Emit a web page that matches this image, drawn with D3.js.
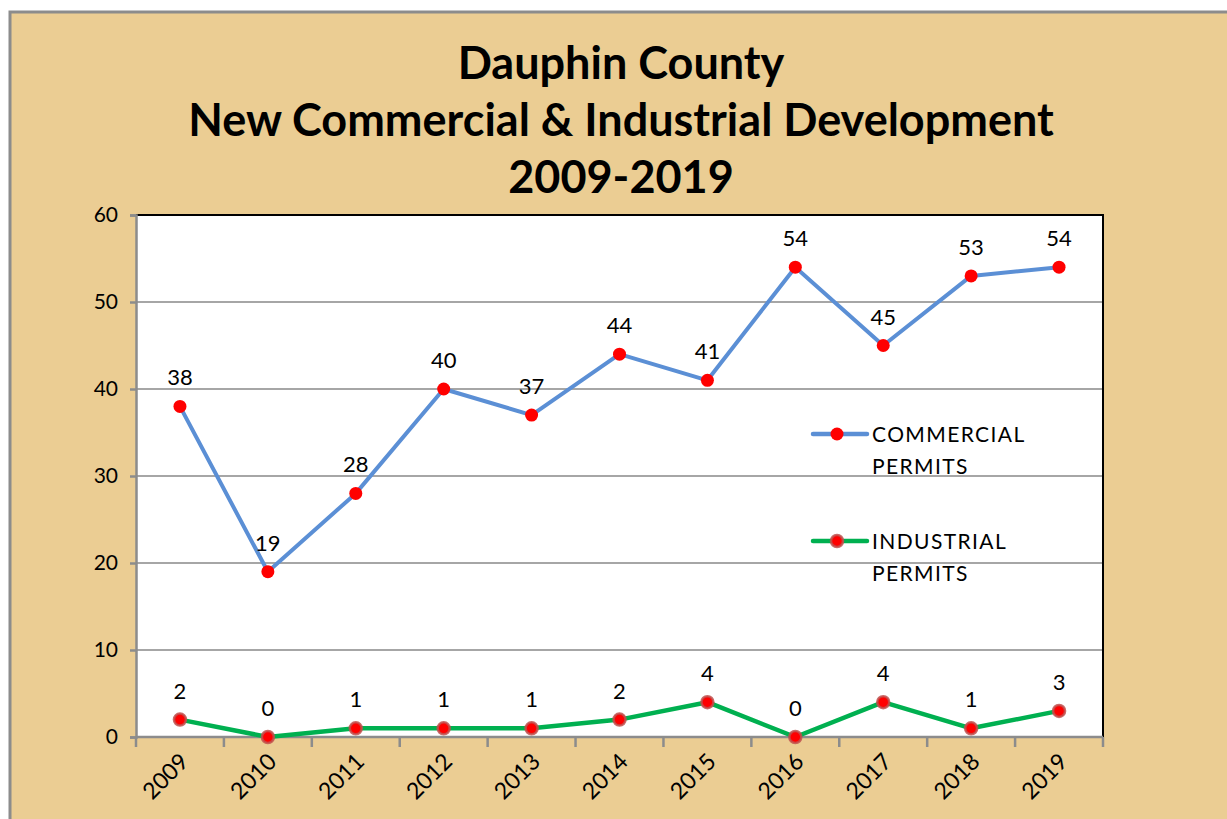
<!DOCTYPE html>
<html>
<head>
<meta charset="utf-8">
<script src="https://cdn.jsdelivr.net/npm/d3@7"></script>
<style>
  body { margin: 0; background: #fff; }
  svg { display: block; }
</style>
</head>
<body>
<script>
// chart data
var years = ["2009", "2010", "2011", "2012", "2013", "2014", "2015", "2016", "2017", "2018", "2019"];
var commercial = [38, 19, 28, 40, 37, 44, 41, 54, 45, 53, 54];
var industrial = [2, 0, 1, 1, 1, 2, 4, 0, 4, 1, 3];
var yTicks = [0, 10, 20, 30, 40, 50, 60];
var titleLines = ["Dauphin County", "New Commercial & Industrial Development", "2009-2019"];
var seriesNames = [["COMMERCIAL", "PERMITS"], ["INDUSTRIAL", "PERMITS"]];

let width = 1227;
let height = 819;
let plotLeft = 136, plotRight = 1103, plotTop = 215, plotBottom = 737;
let font = "Lato, 'Open Sans', sans-serif";

let svg = d3.select("body")
    .append("svg")
    .attr("width", width)
    .attr("height", height);

// outer frame
svg.append("rect")
    .attr("x", 10).attr("y", 12)
    .attr("width", width + 20).attr("height", height + 20)
    .attr("fill", "#EBCD93")
    .attr("stroke", "#8c8c8c")
    .attr("stroke-width", 3);

// title
svg.selectAll("text.title")
    .data(titleLines)
    .enter()
    .append("text")
    .attr("class", "title")
    .attr("x", 621)
    .attr("y", (d, i) => 79 + i * 57)
    .attr("text-anchor", "middle")
    .attr("font-family", font)
    .attr("font-weight", "bold")
    .attr("font-size", "45px")
    .attr("fill", "#000")
    .text((d) => d);

let xScale = d3.scaleBand()
    .domain(years)
    .range([plotLeft, plotRight]);

let yScale = d3.scaleLinear()
    .domain([0, 60])
    .range([plotBottom, plotTop]);

// plot area
svg.append("rect")
    .attr("x", plotLeft).attr("y", plotTop)
    .attr("width", plotRight - plotLeft).attr("height", plotBottom - plotTop)
    .attr("fill", "#fff");

// gridlines
svg.selectAll("line.grid")
    .data(yTicks.filter((d) => d > 0 && d < 60))
    .enter()
    .append("line")
    .attr("class", "grid")
    .attr("x1", plotLeft).attr("x2", plotRight)
    .attr("y1", (d) => yScale(d)).attr("y2", (d) => yScale(d))
    .attr("stroke", "#a6a6a6")
    .attr("stroke-width", 2);

// top and right border
svg.append("path")
    .attr("d", "M" + plotLeft + "," + plotTop + "H" + plotRight + "V" + plotBottom)
    .attr("fill", "none")
    .attr("stroke", "#000")
    .attr("stroke-width", 2);

// y axis
let yAxis = d3.axisLeft(yScale)
    .tickValues(yTicks)
    .tickSize(6)
    .tickPadding(12);
let gy = svg.append("g")
    .attr("transform", "translate(" + plotLeft + ",0)")
    .call(yAxis);
gy.select(".domain").attr("stroke", "#8c8c8c").attr("stroke-width", 2.5);
gy.selectAll(".tick line").attr("stroke", "#8c8c8c").attr("stroke-width", 2.5);
gy.selectAll(".tick text")
    .attr("font-family", font)
    .attr("font-size", "21px")
    .attr("fill", "#000");

// x axis with ticks at category boundaries
let boundaries = years.map((d) => xScale(d)).concat([plotRight]);
svg.append("line")
    .attr("x1", plotLeft).attr("x2", plotRight)
    .attr("y1", plotBottom).attr("y2", plotBottom)
    .attr("stroke", "#8c8c8c")
    .attr("stroke-width", 2.5);
svg.selectAll("line.xtick")
    .data(boundaries)
    .enter()
    .append("line")
    .attr("class", "xtick")
    .attr("x1", (d) => d).attr("x2", (d) => d)
    .attr("y1", plotBottom).attr("y2", plotBottom + 10)
    .attr("stroke", "#8c8c8c")
    .attr("stroke-width", 2.5);

let cx = (d, i) => xScale(years[i]) + xScale.bandwidth() / 2;

svg.selectAll("text.xlabel")
    .data(years)
    .enter()
    .append("text")
    .attr("class", "xlabel")
    .attr("text-anchor", "end")
    .attr("transform", (d, i) => "translate(" + (cx(d, i) + 10) + "," + 763 + ") rotate(-45)")
    .attr("font-family", font)
    .attr("font-size", "23px")
    .attr("fill", "#000")
    .text((d) => d);

// lines
let line = d3.line()
    .x((d, i) => cx(d, i))
    .y((d) => yScale(d));

svg.append("path")
    .datum(commercial)
    .attr("d", line)
    .attr("fill", "none")
    .attr("stroke", "#5b8fd5")
    .attr("stroke-width", 4)
    .attr("stroke-linejoin", "round");

svg.append("path")
    .datum(industrial)
    .attr("d", line)
    .attr("fill", "none")
    .attr("stroke", "#00b050")
    .attr("stroke-width", 4.5)
    .attr("stroke-linejoin", "round");

// markers
svg.selectAll("circle.com")
    .data(commercial)
    .enter()
    .append("circle")
    .attr("class", "com")
    .attr("cx", cx)
    .attr("cy", (d) => yScale(d))
    .attr("r", 6.5)
    .attr("fill", "#ff0000");

svg.selectAll("circle.ind")
    .data(industrial)
    .enter()
    .append("circle")
    .attr("class", "ind")
    .attr("cx", cx)
    .attr("cy", (d) => yScale(d))
    .attr("r", 6)
    .attr("fill", "#ff0000")
    .attr("stroke", "#c0504d")
    .attr("stroke-opacity", 0.85)
    .attr("stroke-width", 2.5);

// data labels
svg.selectAll("text.comlabel")
    .data(commercial)
    .enter()
    .append("text")
    .attr("class", "comlabel")
    .attr("x", cx)
    .attr("y", (d) => yScale(d) - 21)
    .attr("text-anchor", "middle")
    .attr("font-family", font)
    .attr("font-size", "22px")
    .attr("fill", "#000")
    .text((d) => d);

svg.selectAll("text.indlabel")
    .data(industrial)
    .enter()
    .append("text")
    .attr("class", "indlabel")
    .attr("x", cx)
    .attr("y", (d) => yScale(d) - 21)
    .attr("text-anchor", "middle")
    .attr("font-family", font)
    .attr("font-size", "22px")
    .attr("fill", "#000")
    .text((d) => d);

// legend
let legendY = [434, 541];
let legendColors = ["#5b8fd5", "#00b050"];
seriesNames.forEach((name, k) => {
    let g = svg.append("g").attr("transform", "translate(0," + legendY[k] + ")");
    g.append("line")
        .attr("x1", 813).attr("x2", 867)
        .attr("y1", 0).attr("y2", 0)
        .attr("stroke", legendColors[k])
        .attr("stroke-width", 4.5)
        .attr("stroke-linecap", "round");
    let c = g.append("circle")
        .attr("cx", 837).attr("cy", 0)
        .attr("fill", "#ff0000");
    if (k === 0) {
        c.attr("r", 6.5);
    } else {
        c.attr("r", 6).attr("stroke", "#c0504d").attr("stroke-opacity", 0.85).attr("stroke-width", 2.5);
    }
    g.selectAll("text")
        .data(name)
        .enter()
        .append("text")
        .attr("x", 872)
        .attr("y", (d, i) => 8 + i * 32)
        .attr("font-family", font)
        .attr("font-size", "21px")
        .attr("letter-spacing", "1.4px")
        .attr("fill", "#000")
        .text((d) => d);
});
</script>
</body>
</html>
